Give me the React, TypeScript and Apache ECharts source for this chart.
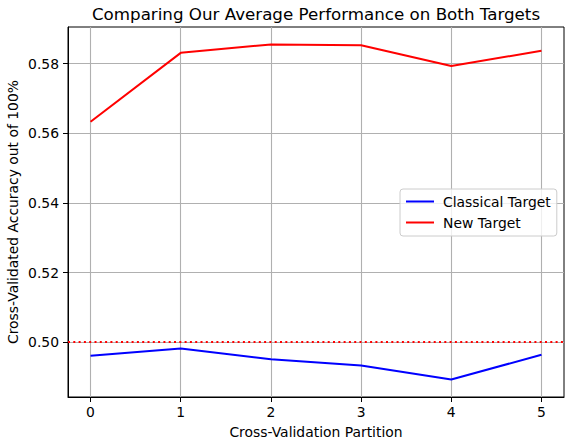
import React, { useEffect, useRef } from "react";
import * as echarts from "echarts";

const partitions = [0, 1, 2, 3, 4, 5];
const classicalTarget = [0.4961, 0.4982, 0.4951, 0.4933, 0.4893, 0.4964];
const newTarget = [0.5633, 0.5831, 0.5855, 0.5853, 0.5793, 0.5837];
const baseline = 0.5;
const yTicks = [0.5, 0.52, 0.54, 0.56, 0.58];

const FONT = "DejaVu Sans";

export default function App() {
  const ref = useRef<HTMLDivElement>(null);
  useEffect(() => {
    if (!ref.current) return;
    const chart = echarts.init(ref.current, null, { renderer: "svg" });
    chart.setOption({
      animation: false,
      backgroundColor: "#fff",
      textStyle: { fontFamily: FONT },
      title: {
        text: "Comparing Our Average Performance on Both Targets",
        left: 311,
        textAlign: "center",
        top: 0,
        textStyle: { fontFamily: FONT, fontSize: 16.7, fontWeight: "normal", color: "#000" },
      },
      legend: {
        orient: "vertical",
        left: 400,
        top: 189,
        padding: [4, 6, 5, 6],
        itemWidth: 28,
        itemHeight: 2,
        itemGap: 4,
        icon: "rect",
        borderColor: "#cccccc",
        borderWidth: 1,
        borderRadius: 3,
        backgroundColor: "rgba(255,255,255,0.8)",
        textStyle: { fontFamily: FONT, fontSize: 13.9, color: "#000", lineHeight: 17, padding: [0, 0, 0, 4] },
        data: ["Classical Target", "New Target"],
      },
      grid: {
        left: 68,
        right: 12,
        top: 27,
        bottom: 45,
        show: true,
        borderColor: "#000",
        borderWidth: 1,
        backgroundColor: "transparent",
        outerBoundsMode: "none",
        containLabel: false,
      },
      xAxis: {
        type: "value",
        min: -0.25,
        max: 5.25,
        name: "Cross-Validation Partition",
        nameLocation: "middle",
        nameGap: 28,
        nameMoveOverlap: false,
        nameTextStyle: { fontFamily: FONT, fontSize: 13.9, color: "#000" },
        axisLine: { show: true, onZero: false, lineStyle: { color: "#000", width: 1 } },
        axisTick: { show: true, length: 5, lineStyle: { color: "#000" }, customValues: partitions },
        axisLabel: { fontFamily: FONT, fontSize: 13.9, color: "#000", margin: 8, customValues: partitions },
        splitLine: { show: true, lineStyle: { color: "#b0b0b0", width: 1.1 } },
      },
      yAxis: {
        type: "value",
        min: 0.48427,
        max: 0.59052,
        name: "Cross-Validated Accuracy out of 100%",
        nameLocation: "middle",
        nameGap: 48,
        nameMoveOverlap: false,
        nameTextStyle: { fontFamily: FONT, fontSize: 13.9, color: "#000" },
        axisLine: { show: true, onZero: false, lineStyle: { color: "#000", width: 1 } },
        axisTick: { show: true, length: 5, lineStyle: { color: "#000" }, customValues: yTicks },
        axisLabel: {
          fontFamily: FONT,
          fontSize: 13.9,
          color: "#000",
          margin: 9,
          customValues: yTicks,
          formatter: (v: number) => v.toFixed(2),
        },
        splitLine: { show: true, lineStyle: { color: "#b0b0b0", width: 1.1 } },
      },
      series: [
        {
          name: "Classical Target",
          type: "line",
          data: partitions.map((x, i) => [x, classicalTarget[i]]),
          symbol: "none",
          lineStyle: { color: "#0000ff", width: 2 },
          itemStyle: { color: "#0000ff" },
          markLine: {
            silent: true,
            symbol: "none",
            label: { show: false },
            lineStyle: { color: "#ff0000", width: 2, type: [2, 3.3] },
            data: [{ yAxis: baseline }],
          },
        },
        {
          name: "New Target",
          type: "line",
          data: partitions.map((x, i) => [x, newTarget[i]]),
          symbol: "none",
          lineStyle: { color: "#ff0000", width: 2 },
          itemStyle: { color: "#ff0000" },
        },
      ],
    });
    return () => chart.dispose();
  }, []);
  return <div ref={ref} style={{ width: 576, height: 442, position: "absolute", left: 0, top: 0 }} />;
}
